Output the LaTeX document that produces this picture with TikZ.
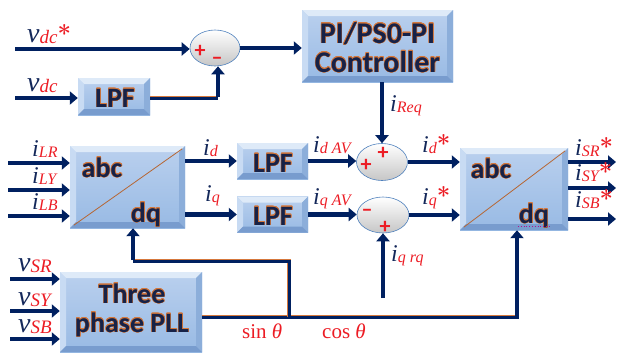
\documentclass[tikz,border=0pt]{standalone}
\usepackage{fontspec}
\usepackage{xcolor}
\usepackage{contour}
\usetikzlibrary{arrows.meta,shapes.geometric}
\newfontfamily\boxfont{Carlito}
\newfontfamily\labfont{Liberation Serif}
\definecolor{navyA}{RGB}{0,32,96}
\definecolor{navyT}{RGB}{20,40,90}
\definecolor{boxText}{RGB}{22,34,72}
\definecolor{redT}{RGB}{236,28,36}
\definecolor{orangeE}{RGB}{214,120,60}
\definecolor{faceTop}{RGB}{186,208,238}
\definecolor{faceBot}{RGB}{152,186,228}
\definecolor{bevTop}{RGB}{222,234,248}
\definecolor{bevLeft}{RGB}{200,219,243}
\definecolor{bevRight}{RGB}{140,174,218}
\definecolor{bevBot}{RGB}{120,156,206}
\definecolor{ellBorder}{RGB}{79,129,189}
\contourlength{0.45pt}
\contournumber{16}
\newcommand\btx[1]{{\color{boxText}\contour{orangeE}{#1}}}
% label: #1 main size, #2 sub size, #3 letter, #4 subscript
\newcommand\Lab[4]{{\labfont\itshape\fontsize{#1}{#1}\selectfont\textcolor{navyT}{#3}\raisebox{-0.06em}{\fontsize{#2}{#2}\selectfont\textcolor{redT}{#4}}}}
\newcommand\Iv[2]{\Lab{24}{16}{#1}{#2}}
\newcommand\Vv[2]{\Lab{28}{19}{#1}{#2}}
\newcommand\Star{\textcolor{redT}{\fontsize{24}{24}\selectfont\bfseries *}}
\tikzset{
  bx/.style={draw=none, rectangle, inner sep=0pt,
    path picture={
      \path (path picture bounding box.south west) coordinate (ppsw)
            (path picture bounding box.north east) coordinate (ppne)
            (ppsw |- ppne) coordinate (ppnw)
            (ppne |- ppsw) coordinate (ppse);
      \shade[top color=faceTop, bottom color=faceBot] (ppsw) rectangle (ppne);
      \fill[bevTop] (ppnw) -- (ppne) -- ([xshift=-6pt,yshift=-6pt]ppne) -- ([xshift=6pt,yshift=-6pt]ppnw) -- cycle;
      \fill[bevLeft] (ppnw) -- (ppsw) -- ([xshift=6pt,yshift=6pt]ppsw) -- ([xshift=6pt,yshift=-6pt]ppnw) -- cycle;
      \fill[bevRight] (ppne) -- (ppse) -- ([xshift=-6pt,yshift=6pt]ppse) -- ([xshift=-6pt,yshift=-6pt]ppne) -- cycle;
      \fill[bevBot] (ppsw) -- (ppse) -- ([xshift=-6pt,yshift=6pt]ppse) -- ([xshift=6pt,yshift=6pt]ppsw) -- cycle;
    }},
  btxt/.style={inner sep=0pt, font=\boxfont\bfseries\fontsize{28}{30}\selectfont},
  sumn/.style={ellipse, draw=ellBorder, line width=0.6pt, inner sep=0pt,
    top color=white, middle color=white, bottom color=gray!45},
  sgn/.style={inner sep=0pt, text=redT, font=\boxfont\bfseries\fontsize{22}{22}\selectfont},
  sig/.style={draw=navyA, line width=4.5pt, -{Triangle[length=8pt,width=13pt]}},
  wire/.style={draw=navyA, line width=3pt, preaction={draw=orangeE, line width=3.8pt}},
  lbl/.style={inner sep=0pt, anchor=base west},
  trig/.style={inner sep=0pt, anchor=base west, text=redT, font=\labfont\fontsize{21}{22}\selectfont},
  diag/.style={draw=orangeE!85!black, line width=0.8pt}
}
\begin{document}
\begin{tikzpicture}[x=1pt,y=-1pt]
\useasboundingbox (0,0) rectangle (620,354);

% boxes
\node[bx, minimum width=151pt, minimum height=72pt] (pi) at (377.5,46) {};
\node[btxt, font=\boxfont\bfseries\fontsize{30}{32}\selectfont, anchor=base] (pit1) at (377.5,43) {\btx{PI/PS0-PI}};
\node[btxt, font=\boxfont\bfseries\fontsize{30}{32}\selectfont, anchor=base] (pit2) at (377.5,72) {\btx{Controller}};

\node[bx, minimum width=72pt, minimum height=37pt] (lpf1) at (114,96.5) {};
\node[btxt, anchor=base] (lpf1t) at (115,107) {\btx{LPF}};
\node[bx, minimum width=71pt, minimum height=36pt] (lpf2) at (272.5,161) {};
\node[btxt, anchor=base] (lpf2t) at (273,172) {\btx{LPF}};
\node[bx, minimum width=71pt, minimum height=36pt] (lpf3) at (272.5,214.5) {};
\node[btxt, anchor=base] (lpf3t) at (273,225) {\btx{LPF}};

\node[bx, minimum width=115pt, minimum height=82pt] (b1) at (127.5,187) {};
\draw[diag] ([xshift=4pt,yshift=3pt]b1.south west) -- ([xshift=-3pt,yshift=-3pt]b1.north east);
\node[btxt, anchor=base] (b1abc) at (102,177) {\btx{abc}};
\node[btxt, anchor=base] (b1dq) at (146,222) {\btx{dq}};

\node[bx, minimum width=108pt, minimum height=82pt] (b2) at (514,189) {};
\draw[diag] ([xshift=4pt,yshift=3pt]b2.south west) -- ([xshift=-3pt,yshift=-3pt]b2.north east);
\node[btxt, anchor=base] (b2abc) at (491,178) {\btx{abc}};
\node[btxt, anchor=base] (b2dq) at (534,223) {\btx{dq}};
\draw[magenta!70!blue, dotted, line width=0.8pt] (518,226) coordinate (dqa) -- (551,226) coordinate (dqb);

\node[bx, minimum width=142pt, minimum height=80pt] (pll) at (131,312) {};
\node[btxt, anchor=base] (pllt1) at (132,303) {\btx{Three}};
\node[btxt, anchor=base] (pllt2) at (132,332) {\btx{phase PLL}};

% summing junctions
\node[sumn, minimum width=50pt, minimum height=36pt] (s1) at (215,48) {};
\node[sgn] (s1p) at (200,51) {+};
\node[sgn] (s1m) at (217,61) {\textendash};
\node[sumn, minimum width=51pt, minimum height=37pt] (s2) at (382,162) {};
\node[sgn] (s2p1) at (366,165) {+};
\node[sgn] (s2p2) at (383,153) {+};
\node[sumn, minimum width=52pt, minimum height=36pt] (s3) at (383,215) {};
\node[sgn] (s3m) at (367,213) {\textendash};
\node[sgn] (s3p) at (385,227) {+};

% free ends
\coordinate (vdcs) at (15,49);
\coordinate (vdc) at (15,98);
\coordinate (c1) at (218,98);
\coordinate (iLR) at (8,163);
\coordinate (iLY) at (8,190);
\coordinate (iLB) at (8,216);
\coordinate (vSR) at (10,279);
\coordinate (vSY) at (10,311);
\coordinate (vSB) at (10,339);
\coordinate (oSR) at (616,162);
\coordinate (oSY) at (616,188);
\coordinate (oSB) at (616,219);
\coordinate (iqrq) at (383,298);
\coordinate (c2) at (289,317);
\coordinate (c3) at (289,261);
\coordinate (c4) at (133,261);
\coordinate (c5) at (517,317);

% connectors
\draw[sig] (vdcs) -- (vdcs -| s1.west);
\draw[sig] (vdc) -- (vdc -| lpf1.west);
\draw[wire] (lpf1.east |- c1) -- (c1);
\draw[sig] ([yshift=1pt]c1) -- (c1 |- s1.south);
\draw[sig] (s1.east) -- (s1.east -| pi.west);
\draw[sig] (pi.south -| s2.north) -- (s2.north);

\draw[sig] (iLR) -- (iLR -| b1.west);
\draw[sig] (iLY) -- (iLY -| b1.west);
\draw[sig] (iLB) -- (iLB -| b1.west);
\draw[sig] (b1.east |- lpf2) -- (lpf2.west);
\draw[sig] (b1.east |- lpf3) -- (lpf3.west);
\draw[sig] (lpf2.east) -- (lpf2.east -| s2.west);
\draw[sig] (lpf3.east) -- (lpf3.east -| s3.west);
\draw[sig] (s2.east) -- (s2.east -| b2.west);
\draw[sig] (s3.east) -- (s3.east -| b2.west);
\draw[sig] (b2.east |- oSR) -- (oSR);
\draw[sig] (b2.east |- oSY) -- (oSY);
\draw[sig] (b2.east |- oSB) -- (oSB);
\draw[sig] (iqrq) -- (s3.south);

\draw[sig] (vSR) -- (vSR -| pll.west);
\draw[sig] (vSY) -- (vSY -| pll.west);
\draw[sig] (vSB) -- (vSB -| pll.west);
\draw[wire] (pll.east |- c2) -- ([xshift=2pt]c5);
\draw[wire] (c2) -- (c3) -- (c4);
\draw[sig] ([yshift=1pt]c4) -- (c4 |- b1.south);
\draw[sig] ([yshift=1pt]c5) -- (c5 |- b2.south);

% labels
\node[lbl] (Lvdcs) at (27,42) {\Vv{v}{dc}\Star};
\node[lbl] (Lvdc) at (27,91) {\Vv{v}{dc}};
\node[lbl] (LiReq) at (390,111) {\Iv{i}{Req}};
\node[lbl] (LiLR) at (32,156) {\Iv{i}{LR}};
\node[lbl] (LiLY) at (32,183) {\Iv{i}{LY}};
\node[lbl] (LiLB) at (32,209) {\Iv{i}{LB}};
\node[lbl] (Lid) at (203,155) {\Iv{i}{d}};
\node[lbl] (Liq) at (205,201) {\Iv{i}{q}};
\node[lbl] (LidAV) at (313,152) {\Iv{i}{d AV}};
\node[lbl] (LiqAV) at (313,204) {\Iv{i}{q AV}};
\node[lbl] (Lids) at (422,152) {\Iv{i}{d}\Star};
\node[lbl] (Liqs) at (422,204) {\Iv{i}{q}\Star};
\node[lbl] (LiSR) at (575,155) {\Iv{i}{SR}\Star};
\node[lbl] (LiSY) at (575,180) {\Iv{i}{SY}\Star};
\node[lbl] (LiSB) at (575,207) {\Iv{i}{SB}\Star};
\node[lbl] (Liqrq) at (391,261) {\Iv{i}{q rq}};
\node[lbl] (LvSR) at (18,271) {\Vv{v}{SR}};
\node[lbl] (LvSY) at (18,305) {\Vv{v}{SY}};
\node[lbl] (LvSB) at (18,332) {\Vv{v}{SB}};
\node[trig] (Lsin) at (242,338) {sin \textit{θ}};
\node[trig] (Lcos) at (322,338) {cos \textit{θ}};
\end{tikzpicture}
\end{document}
